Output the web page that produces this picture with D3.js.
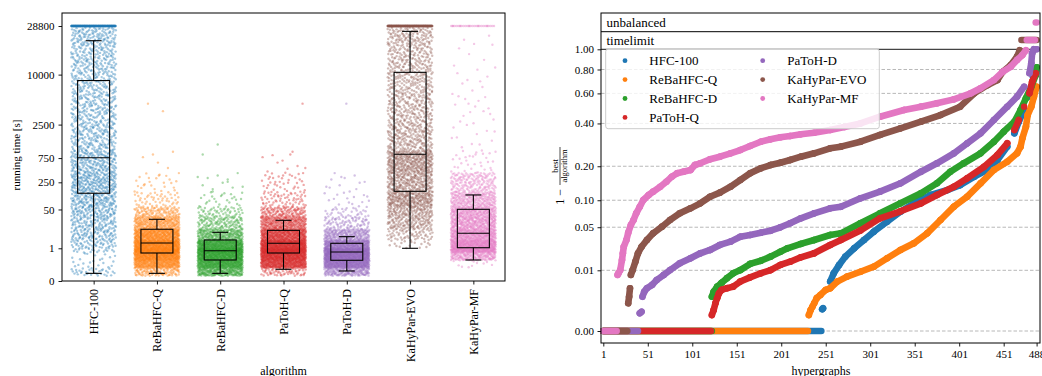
<!DOCTYPE html>
<html>
<head>
<meta charset="utf-8">
<script src="https://cdn.jsdelivr.net/npm/d3@7"></script>
<style>
  body { margin: 0; background: #fff; }
  svg { display: block; }
  text { font-family: "Liberation Serif", "DejaVu Serif", serif; fill: #000; }
</style>
</head>
<body>
<svg id="chart" width="1042" height="376"></svg>
<script>
// ---------- data ----------
const algorithms = ["HFC-100", "ReBaHFC-Q", "ReBaHFC-D", "PaToH-Q", "PaToH-D", "KaHyPar-EVO", "KaHyPar-MF"];
const colors = ["#1f77b4", "#ff7f0e", "#2ca02c", "#d62728", "#9467bd", "#8c564b", "#e377c2"];

// left: running time
const timeTicks = [0, 1, 50, 250, 750, 2500, 10000, 28800];
const timeLimit = 28800;
const binEdges = [0.0001, 0.01, 0.1, 0.5, 1, 3, 10, 30, 60, 150, 400, 1000, 2500, 6000, 12000, 20000, 28000];
// number of runs per running-time bin
const binCounts = [
  [34, 12, 10, 18, 48, 82, 95, 82, 140, 205, 195, 172, 182, 160, 140, 115],
  [100, 250, 350, 250, 400, 380, 250, 100, 50, 25, 5, 0, 2, 0, 0, 0],
  [200, 320, 380, 250, 350, 220, 120, 50, 25, 12, 1, 1, 0, 0, 0, 0],
  [60, 300, 380, 260, 400, 380, 260, 110, 60, 40, 10, 0, 1, 0, 0, 0],
  [150, 350, 450, 250, 300, 200, 80, 30, 15, 12, 0, 0, 1, 0, 0, 0],
  [0, 0, 0, 0, 17, 58, 115, 105, 225, 225, 310, 200, 190, 168, 138, 112],
  [0, 10, 150, 180, 300, 300, 280, 200, 220, 160, 30, 12, 15, 10, 5, 3]
];
const timeoutCounts = [220, 0, 0, 0, 0, 260, 30];
// whisker low, q1, median, q3, whisker high
const boxStats = [
  [0.0007, 139, 760, 8640, 21400],
  [0.0007, 0.46, 2.12, 9.9, 23.9],
  [0.0007, 0.109, 0.68, 3.1, 7.3],
  [0.0059, 0.46, 2.04, 8.9, 22],
  [0.0027, 0.102, 0.55, 2.04, 4.57],
  [1, 155, 872, 10570, 25900],
  [0.109, 1.09, 6.6, 50.6, 126]
];

// right: performance profile
const nHypergraphs = 488;
const rankTicks = [1, 51, 101, 151, 201, 251, 301, 351, 401, 451, 488];
const ratioTicks = [0, 0.01, 0.05, 0.1, 0.2, 0.4, 0.6, 0.8, 1.0];
const zeroCounts = [246, 231, 123, 122, 40, 28, 16];
const timelimitCounts = [0, 0, 0, 0, 0, 18, 10];
const unbalancedCounts = [0, 0, 0, 0, 0, 0, 2];
const curveHFC = [[247,.00046],[248,.00052],[256,.0054],[260,.0086],[266,.0129],[273,.0184],[283,.0253],[294,.0337],[305,.0438],[320,.0584],[335,.076],[350,.0931],[369,.1125],[388,.1254],[402,.1389],[418,.1644],[432,.1867],[444,.2237],[455,.2802],[463,.3457],[468,.4102],[474,.4829],[480,.5755],[484,.7356],[487,.811]];
const curveReBaQ = [[232,.00018],[234,.00041],[236,.00064],[238,.00095],[241,.0016],[245,.0021],[251,.0031],[256,.0035],[264,.0054],[275,.0072],[290,.0093],[305,.0119],[320,.0172],[335,.0238],[350,.0302],[365,.0417],[380,.0612],[395,.0859],[410,.1084],[425,.1441],[440,.1867],[455,.2171],[466,.251],[470,.2802],[472,.3201],[476,.3814],[478,.4508],[482,.5048],[485,.5755],[488,.6522]];
const curveReBaD = [[123,.0018],[125,.0027],[129,.0039],[134,.005],[140,.0066],[147,.0086],[155,.0101],[166,.0135],[178,.0155],[189,.0184],[200,.0223],[208,.0253],[223,.0295],[238,.0337],[256,.0396],[268,.0417],[290,.0559],[312,.0729],[335,.0931],[358,.1168],[376,.1441],[391,.1808],[406,.211],[425,.251],[440,.3035],[451,.3541],[463,.4102],[470,.4829],[476,.5637],[482,.6522],[487,.7506],[488,.82]];
const curvePaToHQ = [[123,.00018],[125,.00041],[127,.00095],[129,.0016],[131,.0024],[134,.0031],[140,.0035],[147,.0039],[155,.0054],[166,.0069],[178,.0086],[189,.0101],[200,.0129],[211,.0149],[223,.0179],[238,.021],[256,.0285],[268,.0337],[290,.0454],[312,.064],[335,.0768],[358,.0931],[376,.1125],[395,.1344],[410,.1592],[429,.1984],[444,.244],[455,.2958],[463,.3632],[468,.4203],[474,.5048],[480,.6008],[483,.6932],[487,.7656]];
const curvePaToHD = [[42,.00025],[44,.00032],[45,.0018],[47,.0027],[50,.0035],[56,.0044],[61,.0059],[69,.0079],[76,.0101],[87,.0139],[99,.0172],[110,.021],[121,.0238],[132,.0285],[144,.0319],[155,.0375],[166,.0396],[178,.0425],[189,.0451],[200,.0499],[211,.0559],[223,.064],[238,.0729],[256,.0826],[268,.0859],[290,.1045],[312,.121],[335,.1441],[358,.1808],[376,.211],[395,.251],[410,.2958],[425,.3457],[440,.4203],[455,.5048],[466,.5755],[474,.6522],[480,.7656],[482,.8582],[483,.958],[485,1],[488,1]];
const curveEVO = [[29,.00095],[30,.0018],[31,.0035],[32,.0079],[34,.0101],[37,.0149],[40,.021],[44,.0268],[50,.0337],[57,.0417],[67,.0508],[76,.0612],[87,.0729],[99,.0826],[110,.0931],[121,.1084],[132,.1184],[144,.1344],[155,.154],[166,.1754],[178,.1927],[189,.2046],[200,.2132],[211,.2237],[223,.2369],[238,.251],[256,.2729],[268,.2802],[290,.3035],[312,.3369],[335,.3726],[358,.4102],[380,.4508],[402,.5048],[418,.6008],[433,.666],[444,.7074],[450,.78],[459,.842],[466,.9235],[469,.99]];
const curveMF = [[17,.0079],[18,.0086],[20,.0101],[22,.016],[23,.021],[24,.0268],[27,.0337],[29,.0425],[32,.0533],[35,.0612],[38,.0729],[42,.0859],[46,.1006],[52,.1125],[57,.121],[65,.1344],[72,.1489],[78,.1644],[84,.1754],[91,.1808],[99,.1867],[104,.2046],[110,.211],[121,.2264],[132,.2369],[144,.251],[155,.2652],[166,.2832],[178,.3035],[189,.3151],[200,.3251],[211,.3317],[223,.3404],[238,.3488],[256,.3632],[272,.38],[290,.40],[312,.44],[339,.483],[358,.505],[376,.528],[395,.556],[414,.601],[425,.64],[440,.707],[450,.78],[459,.826],[466,.89],[472,.94],[476,.99]];
const curves = [curveHFC, curveReBaQ, curveReBaD, curvePaToHQ, curvePaToHD, curveEVO, curveMF];

// ---------- drawing ----------
const svg = d3.select("#chart");

function styleAxis(g, size) {
  g.select(".domain").remove();
  g.selectAll(".tick line").attr("stroke", "#000").attr("stroke-width", 0.9);
  g.selectAll(".tick text").attr("font-size", size).attr("font-family", "Liberation Serif, serif").attr("fill", "#000");
}

// low-discrepancy (Halton) fractions, used only to spread the jitter evenly
function halton(i, base) {
  let f = 1, r = 0;
  while (i > 0) { f /= base; r += f * (i % base); i = Math.floor(i / base); }
  return r;
}

// ===== left: running time strip plot =====
const P1 = { left: 62, right: 505, top: 13, bottom: 281 };
const x1 = d3.scalePoint().domain(algorithms).range([P1.left, P1.right]).padding(0.5);
const y1 = d3.scalePow().exponent(0.2).domain([0, timeLimit]).range([P1.bottom, 26]);
const jitter = 45, boxW = 32, capW = 16;

const g1 = svg.append("g");
algorithms.forEach((a, k) => {
  const cx = x1(a);
  const pts = [];
  let idx = 1 + k * 131;
  binCounts[k].forEach((n, b) => {
    const t0 = Math.pow(binEdges[b], 0.2), t1 = Math.pow(binEdges[b + 1], 0.2);
    for (let j = 0; j < n; j++, idx++) {
      const fy = halton(j + 1 + b * 17, 2);
      const fx = halton(idx, 3);
      pts.push([cx + (fx - 0.5) * jitter, Math.pow(t0 + fy * (t1 - t0), 5)]);
    }
  });
  for (let j = 0; j < timeoutCounts[k]; j++) {
    pts.push([cx + (halton(j + 1, 5) - 0.5) * jitter, timeLimit]);
  }
  g1.append("g").selectAll("circle").data(pts).join("circle")
    .attr("cx", d => d[0]).attr("cy", d => y1(d[1]))
    .attr("r", 1.2).attr("fill", colors[k]).attr("fill-opacity", 0.4);
});

const boxes = g1.append("g").attr("stroke", "#000").attr("stroke-width", 1.1).attr("fill", "none");
boxStats.forEach((s, k) => {
  const cx = x1(algorithms[k]);
  boxes.append("rect").attr("x", cx - boxW / 2).attr("width", boxW)
    .attr("y", y1(s[3])).attr("height", y1(s[1]) - y1(s[3]));
  boxes.append("line").attr("x1", cx - boxW / 2).attr("x2", cx + boxW / 2).attr("y1", y1(s[2])).attr("y2", y1(s[2]));
  boxes.append("line").attr("x1", cx).attr("x2", cx).attr("y1", y1(s[1])).attr("y2", y1(s[0]));
  boxes.append("line").attr("x1", cx).attr("x2", cx).attr("y1", y1(s[3])).attr("y2", y1(s[4]));
  [s[0], s[4]].forEach(v => boxes.append("line").attr("x1", cx - capW / 2).attr("x2", cx + capW / 2).attr("y1", y1(v)).attr("y2", y1(v)));
});

svg.append("rect").attr("x", P1.left).attr("y", P1.top).attr("width", P1.right - P1.left).attr("height", P1.bottom - P1.top)
  .attr("fill", "none").attr("stroke", "#000").attr("stroke-width", 1);

svg.append("g").attr("transform", `translate(${P1.left},0)`)
  .call(d3.axisLeft(y1).tickValues(timeTicks).tickSize(3.5).tickPadding(4).tickFormat(d => String(d)))
  .call(g => styleAxis(g, "11px"));

const xa1 = svg.append("g").attr("transform", `translate(0,${P1.bottom})`)
  .call(d3.axisBottom(x1).tickSize(3.5).tickPadding(4))
  .call(g => styleAxis(g, "12px"));
xa1.selectAll(".tick text").attr("transform", "rotate(-90)").attr("text-anchor", "end")
  .attr("x", -8).attr("y", 0).attr("dy", "0.33em");

svg.append("text").attr("transform", "translate(19.5,155) rotate(-90)").attr("text-anchor", "middle")
  .attr("font-size", "11px").text("running time [s]");
svg.append("text").attr("x", (P1.left + P1.right) / 2).attr("y", 374.5).attr("text-anchor", "middle")
  .attr("font-size", "12px").text("algorithm");

// ===== right: performance profile =====
const P2 = { left: 601, right: 1040, top: 13, bottom: 343 };
const x2 = d3.scaleLinear().domain([1, nHypergraphs]).range([603.3, 1036.6]);
const y2 = d3.scalePow().exponent(1 / 3).domain([0, 1]).range([331, 49.3]);
const yTimelimit = 40, yUnbalanced = 22.5, yDivider = 31.7;
const R = 3.3;

const g2 = svg.append("g");
g2.selectAll(".grid").data(ratioTicks.filter(t => t < 1)).join("line")
  .attr("x1", P2.left).attr("x2", P2.right).attr("y1", d => y2(d)).attr("y2", d => y2(d))
  .attr("stroke", "#b0b0b0").attr("stroke-width", 0.9).attr("stroke-dasharray", "3.5,2");
g2.append("line").attr("x1", P2.left).attr("x2", P2.right).attr("y1", y2(1)).attr("y2", y2(1))
  .attr("stroke", "#444").attr("stroke-width", 1.3);
g2.append("line").attr("x1", P2.left).attr("x2", P2.right).attr("y1", yDivider).attr("y2", yDivider)
  .attr("stroke", "#000").attr("stroke-width", 1);
g2.append("text").attr("x", 606.5).attr("y", 27).attr("font-size", "13px").text("unbalanced");
g2.append("text").attr("x", 606.5).attr("y", 44.5).attr("font-size", "13px").text("timelimit");

algorithms.forEach((a, k) => {
  const c = colors[k];
  const gs = g2.append("g").attr("stroke", c).attr("fill", c);
  const run = (r0, r1, y) => gs.append("line").attr("x1", x2(r0)).attr("x2", x2(r1)).attr("y1", y).attr("y2", y)
    .attr("stroke-width", 2 * R).attr("stroke-linecap", "round");
  run(1, zeroCounts[k], y2(0));
  const pts = curves[k].map(d => [x2(d[0]), y2(d[1])]);
  for (let i = 1; i < pts.length; i++) {
    const dx = pts[i][0] - pts[i - 1][0], dy = Math.abs(pts[i][1] - pts[i - 1][1]);
    // consecutive hypergraphs blend into one thick trace; real jumps stay as separate dots
    if (dy <= 12.5 || (dx >= 8 && dy < 2.5 * dx)) {
      gs.append("line").attr("x1", pts[i - 1][0]).attr("y1", pts[i - 1][1]).attr("x2", pts[i][0]).attr("y2", pts[i][1])
        .attr("stroke-width", 2 * R).attr("stroke-linecap", "round");
    }
  }
  gs.selectAll("circle").data(pts).join("circle").attr("cx", d => d[0]).attr("cy", d => d[1]).attr("r", R).attr("stroke", "none");
  const nt = timelimitCounts[k], nu = unbalancedCounts[k];
  if (nt > 0) run(nHypergraphs - nu - nt + 1, nHypergraphs - nu, yTimelimit);
  if (nu > 0) run(nHypergraphs - nu + 1, nHypergraphs, yUnbalanced);
});

// legend
const lg = svg.append("g");
lg.append("rect").attr("x", 605.7).attr("y", 49).attr("width", 273.6).attr("height", 79.7).attr("rx", 2.5)
  .attr("fill", "#fff").attr("fill-opacity", 0.8).attr("stroke", "#cccccc").attr("stroke-width", 1);
algorithms.forEach((a, k) => {
  const col = k < 4 ? 0 : 1, row = k < 4 ? k : k - 4;
  const mx = col ? 762.7 : 625, tx = col ? 787.3 : 649.3, yy = 60.7 + row * 18.9;
  lg.append("circle").attr("cx", mx).attr("cy", yy).attr("r", 2.4).attr("fill", colors[k]);
  lg.append("text").attr("x", tx).attr("y", yy).attr("dy", "0.34em").attr("font-size", "13px").text(a);
});

svg.append("rect").attr("x", P2.left).attr("y", P2.top).attr("width", P2.right - P2.left).attr("height", P2.bottom - P2.top)
  .attr("fill", "none").attr("stroke", "#000").attr("stroke-width", 1);

svg.append("g").attr("transform", `translate(${P2.left},0)`)
  .call(d3.axisLeft(y2).tickValues(ratioTicks).tickSize(3.5).tickPadding(3.5).tickFormat(d3.format(".2f")))
  .call(g => styleAxis(g, "11px"));
svg.append("g").attr("transform", `translate(0,${P2.bottom})`)
  .call(d3.axisBottom(x2).tickValues(rankTicks).tickSize(3.5).tickPadding(4).tickFormat(d => String(d)))
  .call(g => styleAxis(g, "11px"));

svg.append("text").attr("x", 821).attr("y", 374.5).attr("text-anchor", "middle").attr("font-size", "12px").text("hypergraphs");

const yl = svg.append("g").attr("transform", "translate(560,166) rotate(-90)");
yl.append("text").attr("x", -23).attr("y", 4).attr("text-anchor", "end").attr("font-size", "12px").text("1 \u2212");
yl.append("line").attr("x1", -19).attr("x2", 19).attr("y1", 0).attr("y2", 0).attr("stroke", "#000").attr("stroke-width", 0.7);
yl.append("text").attr("x", 0).attr("y", -2.2).attr("text-anchor", "middle").attr("font-size", "8.5px").text("best");
yl.append("text").attr("x", 0).attr("y", 7.3).attr("text-anchor", "middle").attr("font-size", "8.5px").text("algorithm");
</script>
</body>
</html>
